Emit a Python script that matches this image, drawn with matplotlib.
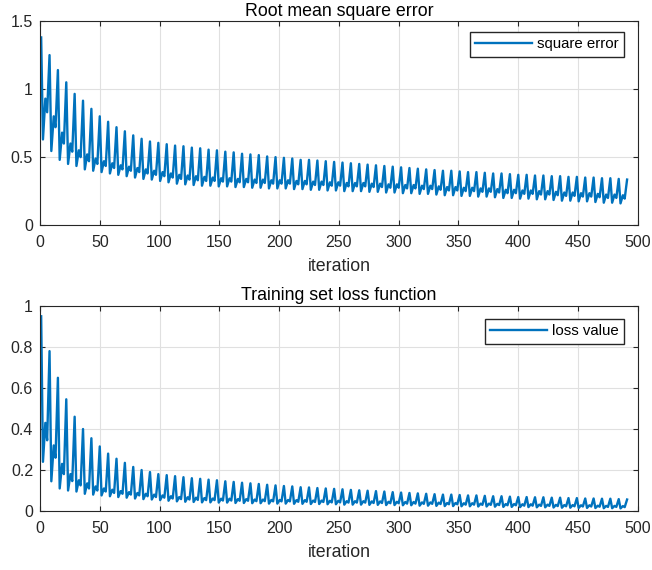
import matplotlib
matplotlib.use("Agg")
import matplotlib.pyplot as plt

# MATLAB-like look
BLUE = "#0072BD"
INK = "#262626"
GRID = "#e0e0e0"

plt.rcParams.update({
    "font.family": ["Liberation Sans", "DejaVu Sans"],
    "font.size": 11.5,
    "axes.linewidth": 0.8,
    "axes.edgecolor": INK,
    "xtick.color": INK,
    "ytick.color": INK,
})

PERIOD = 7          # iterations per training epoch cycle
FIRST = 1           # iteration of the first peak
OFFSETS = (0, 1.5, 3.5, 5)   # peak, trough, shoulder, dip within one cycle

# ---- Root mean square error, read per cycle ----
rmse_peaks = [
    1.38, 1.25, 1.14, 1.05, 0.965, 0.915, 0.855, 0.80, 0.76, 0.72,
    0.69, 0.66, 0.635, 0.615, 0.605, 0.595, 0.585, 0.58, 0.57, 0.565,
    0.555, 0.55, 0.54, 0.535, 0.525, 0.52, 0.515, 0.505, 0.50, 0.495,
    0.49, 0.48, 0.48, 0.475, 0.47, 0.465, 0.46, 0.455, 0.45, 0.445,
    0.44, 0.435, 0.43, 0.425, 0.42, 0.415, 0.41, 0.405, 0.40, 0.40,
    0.395, 0.39, 0.39, 0.385, 0.38, 0.38, 0.375, 0.37, 0.37, 0.365,
    0.365, 0.36, 0.36, 0.355, 0.355, 0.35, 0.35, 0.345, 0.345, 0.34,
    0.335,
]
rmse_troughs = [
    0.63, 0.545, 0.48, 0.45, 0.435, 0.41, 0.40, 0.39, 0.38, 0.37,
    0.36, 0.35, 0.34, 0.335, 0.325, 0.315, 0.305, 0.30, 0.295, 0.29,
    0.29, 0.285, 0.285, 0.28, 0.28, 0.275, 0.275, 0.27, 0.27, 0.27,
    0.265, 0.265, 0.26, 0.26, 0.255, 0.255, 0.25, 0.25, 0.25, 0.245,
    0.245, 0.24, 0.24, 0.235, 0.235, 0.23, 0.23, 0.225, 0.22, 0.22,
    0.215, 0.215, 0.21, 0.21, 0.205, 0.20, 0.20, 0.195, 0.195, 0.19,
    0.19, 0.185, 0.18, 0.18, 0.175, 0.175, 0.17, 0.165, 0.165, 0.16,
]
rmse_shoulders = [
    0.93, 0.80, 0.68, 0.60, 0.55, 0.52, 0.49, 0.47, 0.455, 0.44,
    0.43, 0.42, 0.41, 0.40, 0.39, 0.38, 0.37, 0.365, 0.36, 0.355,
    0.35, 0.345, 0.345, 0.34, 0.34, 0.335, 0.335, 0.33, 0.33, 0.33,
    0.325, 0.325, 0.32, 0.32, 0.315, 0.315, 0.31, 0.31, 0.31, 0.305,
    0.305, 0.30, 0.30, 0.295, 0.295, 0.29, 0.29, 0.285, 0.28, 0.28,
    0.275, 0.275, 0.27, 0.27, 0.265, 0.26, 0.26, 0.255, 0.255, 0.25,
    0.25, 0.245, 0.24, 0.24, 0.235, 0.235, 0.23, 0.225, 0.225, 0.22,
]
rmse_dips = [
    0.83, 0.72, 0.60, 0.54, 0.50, 0.47, 0.45, 0.435, 0.42, 0.41,
    0.40, 0.39, 0.38, 0.37, 0.36, 0.35, 0.34, 0.335, 0.33, 0.325,
    0.325, 0.32, 0.32, 0.315, 0.315, 0.31, 0.31, 0.305, 0.305, 0.305,
    0.30, 0.30, 0.295, 0.295, 0.29, 0.29, 0.285, 0.285, 0.285, 0.28,
    0.28, 0.275, 0.275, 0.27, 0.27, 0.265, 0.265, 0.26, 0.255, 0.255,
    0.25, 0.25, 0.245, 0.245, 0.24, 0.235, 0.235, 0.23, 0.23, 0.225,
    0.225, 0.22, 0.215, 0.215, 0.21, 0.21, 0.205, 0.20, 0.20, 0.195,
]

# ---- Training set loss, read per cycle ----
loss_peaks = [
    0.95, 0.78, 0.65, 0.545, 0.46, 0.40, 0.355, 0.315, 0.28, 0.255,
    0.235, 0.215, 0.20, 0.19, 0.18, 0.175, 0.17, 0.165, 0.16, 0.157,
    0.153, 0.15, 0.145, 0.142, 0.138, 0.135, 0.132, 0.128, 0.125, 0.122,
    0.12, 0.116, 0.115, 0.112, 0.11, 0.108, 0.106, 0.103, 0.101, 0.099,
    0.097, 0.095, 0.092, 0.09, 0.088, 0.086, 0.084, 0.082, 0.08, 0.08,
    0.078, 0.076, 0.076, 0.074, 0.072, 0.072, 0.07, 0.068, 0.068, 0.067,
    0.067, 0.065, 0.065, 0.063, 0.063, 0.061, 0.061, 0.06, 0.06, 0.058,
    0.056,
]
loss_troughs = [
    0.24, 0.145, 0.11, 0.10, 0.095, 0.084, 0.08, 0.076, 0.072, 0.068,
    0.065, 0.061, 0.058, 0.056, 0.053, 0.05, 0.047, 0.045, 0.044, 0.042,
    0.042, 0.041, 0.041, 0.039, 0.039, 0.038, 0.038, 0.036, 0.036, 0.036,
    0.035, 0.035, 0.034, 0.034, 0.033, 0.033, 0.031, 0.031, 0.031, 0.030,
    0.030, 0.029, 0.029, 0.028, 0.028, 0.026, 0.026, 0.025, 0.024, 0.024,
    0.023, 0.023, 0.022, 0.022, 0.021, 0.020, 0.020, 0.019, 0.019, 0.018,
    0.018, 0.017, 0.016, 0.016, 0.015, 0.015, 0.0145, 0.0136, 0.0136, 0.0128,
]
loss_shoulders = [
    0.43, 0.32, 0.23, 0.18, 0.15, 0.135, 0.12, 0.11, 0.104, 0.097,
    0.092, 0.088, 0.084, 0.08, 0.076, 0.072, 0.068, 0.067, 0.065, 0.063,
    0.061, 0.06, 0.06, 0.058, 0.058, 0.056, 0.056, 0.054, 0.054, 0.054,
    0.053, 0.053, 0.051, 0.051, 0.05, 0.05, 0.048, 0.048, 0.048, 0.047,
    0.047, 0.045, 0.045, 0.044, 0.044, 0.042, 0.042, 0.041, 0.039, 0.039,
    0.038, 0.038, 0.036, 0.036, 0.035, 0.034, 0.034, 0.033, 0.033, 0.031,
    0.031, 0.030, 0.029, 0.029, 0.028, 0.028, 0.026, 0.025, 0.025, 0.024,
]
loss_dips = [
    0.345, 0.26, 0.18, 0.146, 0.125, 0.11, 0.10, 0.095, 0.088, 0.084,
    0.08, 0.076, 0.072, 0.068, 0.065, 0.061, 0.058, 0.056, 0.054, 0.053,
    0.053, 0.051, 0.051, 0.05, 0.05, 0.048, 0.048, 0.047, 0.047, 0.047,
    0.045, 0.045, 0.044, 0.044, 0.042, 0.042, 0.041, 0.041, 0.041, 0.039,
    0.039, 0.038, 0.038, 0.036, 0.036, 0.035, 0.035, 0.034, 0.033, 0.033,
    0.031, 0.031, 0.03, 0.03, 0.029, 0.028, 0.028, 0.026, 0.026, 0.025,
    0.025, 0.024, 0.023, 0.023, 0.022, 0.022, 0.021, 0.02, 0.02, 0.019,
]

x_ticks = [0, 50, 100, 150, 200, 250, 300, 350, 400, 450, 500]
rmse_yticks = [0, 0.5, 1, 1.5]
rmse_yticklabels = ["0", "0.5", "1", "1.5"]
loss_yticks = [0, 0.2, 0.4, 0.6, 0.8, 1]
loss_yticklabels = ["0", "0.2", "0.4", "0.6", "0.8", "1"]


def cycle_path(peaks, troughs, shoulders, dips):
    """Join the read vertices of each cycle into one polyline."""
    its, vals = [], []
    for k in range(len(troughs)):
        start = FIRST + PERIOD * k
        for off, v in zip(OFFSETS, (peaks[k], troughs[k], shoulders[k], dips[k])):
            its.append(start + off)
            vals.append(v)
    its.append(FIRST + PERIOD * len(troughs))
    vals.append(peaks[len(troughs)])
    return its, vals


def style(ax, yticks, yticklabels, ymax):
    ax.set_xlim(0, 500)
    ax.set_ylim(0, ymax)
    ax.set_xticks(x_ticks)
    ax.set_yticks(yticks)
    ax.set_yticklabels(yticklabels)
    ax.grid(True, color=GRID, lw=0.8)
    ax.set_axisbelow(True)
    ax.tick_params(direction="in", length=3.8, width=0.8, top=True, right=True,
                   labelsize=11.5, pad=5)
    ax.tick_params(axis="x", pad=7)
    ax.set_xlabel("iteration", fontsize=12.8, color=INK, labelpad=6)


def add_legend(ax, top):
    ax.legend(loc="upper right", bbox_to_anchor=(0.9766, top), borderaxespad=0,
              fancybox=False, edgecolor=INK, framealpha=1, fontsize=10.8,
              handlelength=3.8, handletextpad=0.3, borderpad=0.35)


fig = plt.figure(figsize=(6.52, 5.70), dpi=100)
ax1 = fig.add_axes([0.0613, 0.605, 0.917, 0.358])
ax2 = fig.add_axes([0.0613, 0.1035, 0.917, 0.3596])

x, y = cycle_path(rmse_peaks, rmse_troughs, rmse_shoulders, rmse_dips)
ax1.plot(x, y, color=BLUE, lw=1.7, label="square error")
style(ax1, rmse_yticks, rmse_yticklabels, 1.5)
ax1.set_title("Root mean square error", fontsize=12.8, color="black", pad=4)
add_legend(ax1, 0.946)

x, y = cycle_path(loss_peaks, loss_troughs, loss_shoulders, loss_dips)
ax2.plot(x, y, color=BLUE, lw=1.7, label="loss value")
style(ax2, loss_yticks, loss_yticklabels, 1)
ax2.set_title("Training set loss function", fontsize=12.8, color="black", pad=4)
add_legend(ax2, 0.9366)

fig.savefig("out.png", dpi=100)
